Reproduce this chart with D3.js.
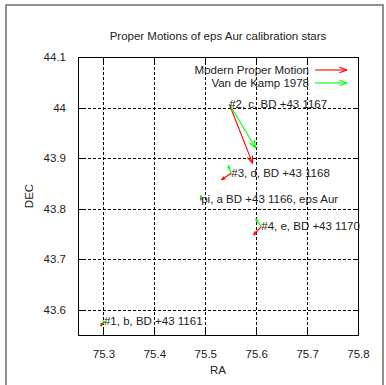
<!DOCTYPE html>
<html>
<head>
<meta charset="utf-8">
<script src="https://cdn.jsdelivr.net/npm/d3@7"></script>
<style>
  html, body { margin: 0; padding: 0; background: #fff; }
  svg { display: block; }
  text { font-family: "Liberation Sans", Arial, sans-serif; font-size: 11.5px; fill: #222; }
</style>
</head>
<body>
<svg id="chart" width="386" height="385"></svg>
<script>
// Star labels and positions (RA, DEC in degrees)
const starLabels = [
  "#1, b, BD +43 1161",
  "#2, c, BD +43 1167",
  "#3, d, BD +43 1168",
  "pi, a BD +43 1166, eps Aur",
  "#4, e, BD +43 1170"
];
const starRA  = [75.301, 75.547, 75.551, 75.492, 75.610];
const starDEC = [43.577, 44.007, 43.870, 43.820, 43.765];

// Arrow end points: modern proper motion (scaled)
const modernRA  = [75.2945, 75.593, 75.532, 75.4915, 75.595];
const modernDEC = [43.568, 43.8895, 43.857, 43.822, 43.748];

// Arrow end points: Van de Kamp 1978 (scaled)
const vdkRA  = [75.2985, 75.599, 75.545, 75.491, 75.599];
const vdkDEC = [43.573, 43.920, 43.885, 43.826, 43.780];

const seriesNames  = ["Modern Proper Motion", "Van de Kamp 1978"];
const seriesColors = ["#ff0000", "#00ff00"];

const xTicks = [75.3, 75.4, 75.5, 75.6, 75.7, 75.8];
const yTicks = [43.6, 43.7, 43.8, 43.9, 44.0, 44.1];
const xGrid  = [75.3, 75.4, 75.5, 75.6, 75.7];
const yGrid  = [43.6, 43.7, 43.8, 43.9, 44.0];

const svg = d3.select("#chart");
const L = 78, R = 358, T = 57, B = 335;

const x = d3.scaleLinear().domain([75.25, 75.8]).range([L, R]);
const y = d3.scaleLinear().domain([43.55, 44.1]).range([B, T]);

// Outer page frame
svg.append("rect")
  .attr("x", 6).attr("y", 5).attr("width", 377).attr("height", 400)
  .attr("fill", "none").attr("stroke", "#6e6e6e").attr("stroke-width", 1.5);

// Dashed grid
const grid = svg.append("g").attr("stroke", "#000").attr("stroke-width", 1)
  .attr("stroke-dasharray", "3,2").attr("shape-rendering", "crispEdges");
grid.selectAll("line.gx").data(xGrid).join("line")
  .attr("x1", d => Math.round(x(d)) + 0.5).attr("x2", d => Math.round(x(d)) + 0.5)
  .attr("y1", T).attr("y2", B);
grid.selectAll("line.gy").data(yGrid).join("line")
  .attr("y1", d => Math.round(y(d)) + 0.5).attr("y2", d => Math.round(y(d)) + 0.5)
  .attr("x1", L).attr("x2", R);

// Axes with inward ticks on all four sides
const fmt = d3.format(".1f");
function styleAxis(g) {
  g.select(".domain").remove();
  g.selectAll(".tick line").attr("stroke", "#000").attr("shape-rendering", "crispEdges");
  g.selectAll(".tick text").style("font-family", "Liberation Sans, Arial, sans-serif")
    .style("font-size", "11.5px").attr("fill", "#333");
}
svg.append("g").attr("transform", `translate(0,${B})`)
  .call(d3.axisBottom(x).tickValues(xTicks).tickFormat(d => String(+fmt(d))).tickSize(-5).tickPadding(15))
  .call(styleAxis);
svg.append("g").attr("transform", `translate(0,${T})`)
  .call(d3.axisTop(x).tickValues(xTicks).tickFormat("").tickSize(-5))
  .call(styleAxis);
svg.append("g").attr("transform", `translate(${L},0)`)
  .call(d3.axisLeft(y).tickValues(yTicks).tickFormat(d => String(+fmt(d))).tickSize(-5).tickPadding(12))
  .call(styleAxis);
svg.append("g").attr("transform", `translate(${R},0)`)
  .call(d3.axisRight(y).tickValues(yTicks).tickFormat("").tickSize(-5))
  .call(styleAxis);

// Plot border
svg.append("rect")
  .attr("x", L + 0.5).attr("y", T + 0.5).attr("width", R - L).attr("height", B - T)
  .attr("fill", "none").attr("stroke", "#000").attr("stroke-width", 1);

// Open arrowhead arrow between two pixel points; head shrinks on short arrows
function arrow(g, x1, y1, x2, y2, color) {
  const ang = Math.atan2(y2 - y1, x2 - x1);
  const len = Math.hypot(x2 - x1, y2 - y1);
  const hl = Math.max(3, Math.min(8, len * 0.35)), ha = Math.PI / 9;
  g.append("line").attr("x1", x1).attr("y1", y1).attr("x2", x2).attr("y2", y2)
    .attr("stroke", color).attr("stroke-width", 1.1);
  [ang + Math.PI - ha, ang + Math.PI + ha].forEach(a => {
    g.append("line").attr("x1", x2).attr("y1", y2)
      .attr("x2", x2 + hl * Math.cos(a)).attr("y2", y2 + hl * Math.sin(a))
      .attr("stroke", color).attr("stroke-width", 1.1);
  });
}

const marks = svg.append("g");
starLabels.forEach((lab, i) => {
  arrow(marks, x(starRA[i]), y(starDEC[i]), x(modernRA[i]), y(modernDEC[i]), seriesColors[0]);
});
starLabels.forEach((lab, i) => {
  arrow(marks, x(starRA[i]), y(starDEC[i]), x(vdkRA[i]), y(vdkDEC[i]), seriesColors[1]);
});

// Star labels
svg.append("g").selectAll("text").data(starLabels).join("text")
  .attr("x", (d, i) => x(starRA[i]))
  .attr("y", (d, i) => y(starDEC[i]))
  .attr("dy", "0.35em")
  .text(d => d);

// Legend
const leg = svg.append("g");
seriesNames.forEach((name, i) => {
  const ly = 70 + i * 13;
  leg.append("text").attr("x", 309).attr("y", ly).attr("dy", "0.35em")
    .attr("text-anchor", "end").text(name);
  arrow(leg, 315, ly, 347, ly, seriesColors[i]);
});

// Title and axis titles
svg.append("text").attr("x", (L + R) / 2).attr("y", 36).attr("dy", "0.35em")
  .attr("text-anchor", "middle").text("Proper Motions of eps Aur calibration stars");
svg.append("text").attr("x", (L + R) / 2).attr("y", 370).attr("dy", "0.35em")
  .attr("text-anchor", "middle").text("RA");
svg.append("text").attr("transform", `translate(29,${(T + B) / 2}) rotate(-90)`)
  .attr("dy", "0.35em").attr("text-anchor", "middle").text("DEC");
</script>
</body>
</html>
